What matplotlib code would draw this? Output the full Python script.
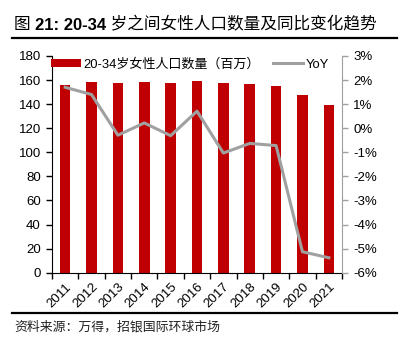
import matplotlib
matplotlib.use('Agg')
import matplotlib.pyplot as plt
from matplotlib.ticker import FuncFormatter, FixedLocator

plt.rcParams['font.family'] = ['Liberation Sans', 'Noto Sans CJK SC']
plt.rcParams['axes.unicode_minus'] = False

years = ['2011', '2012', '2013', '2014', '2015', '2016', '2017', '2018', '2019', '2020', '2021']
female_pop = [155.8, 158.3, 157.8, 158.3, 157.8, 158.9, 157.2, 156.4, 155.0, 147.2, 139.4]
yoy = [1.70, 1.40, -0.29, 0.22, -0.31, 0.71, -1.03, -0.63, -0.72, -5.13, -5.38]

RED = '#C00000'
GRAY = '#A0A0A0'

fig = plt.figure(figsize=(4.04, 3.38), dpi=100)
ax = fig.add_axes([52 / 404, 1 - 272.7 / 338, 290 / 404, 216.7 / 338])
ax2 = ax.twinx()

x = list(range(len(years)))
bars = ax.bar(x, female_pop, width=0.4, color=RED, zorder=2)
line, = ax2.plot(x, yoy, color=GRAY, linewidth=2.2, zorder=3)

ax.set_xlim(-0.5, len(years) - 0.5)
ax.set_ylim(0, 180)
ax.set_yticks(range(0, 181, 20))
ax2.set_ylim(-6, 3)
ax2.set_yticks(range(-6, 4))
ax2.yaxis.set_major_formatter(FuncFormatter(lambda v, p: f'{int(v)}%'))

# boundary ticks, labels at bar centres
ax.xaxis.set_major_locator(FixedLocator([i - 0.5 for i in range(len(years) + 1)]))
ax.xaxis.set_minor_locator(FixedLocator(x))
ax.set_xticklabels([''] * (len(years) + 1))
ax.set_xticklabels(years, minor=True, rotation=45, ha='right', rotation_mode='anchor')
ax.tick_params(axis='x', which='major', length=4, width=1, direction='out')
ax.tick_params(axis='x', which='minor', length=0, pad=6, labelsize=9.5)
ax.tick_params(axis='y', length=4, width=1, labelsize=9.5, pad=4)
ax2.tick_params(axis='y', length=4, width=1, color=GRAY, labelsize=9.5, pad=4)

for a in (ax, ax2):
    a.spines['top'].set_visible(False)
ax.spines['right'].set_visible(False)
ax2.spines['left'].set_visible(False)
ax2.spines['bottom'].set_visible(False)
ax2.spines['right'].set_color(GRAY)

ax.legend([bars, line], ['20-34岁女性人口数量（百万）', 'YoY'], ncol=2, frameon=False,
          loc='upper left', bbox_to_anchor=(-0.045, 1.045), fontsize=9.4,
          handlelength=2.3, handleheight=0.5, handletextpad=0.2, columnspacing=1.0)

# title: regular CJK with bold numbers
t1 = fig.text(14 / 404, 1 - 25 / 338, '图 ', fontsize=12, va='center', ha='left')
t2 = ax.annotate('21: 20-34', xy=(1, 0), xycoords=t1, va='bottom', ha='left',
                 fontsize=12, fontweight='bold', annotation_clip=False)
t3 = ax.annotate(' 岁之间女性人口数量及同比变化趋势', xy=(1, 0), xycoords=t2, va='bottom', ha='left',
                 fontsize=12, annotation_clip=False)

fig.add_artist(plt.Line2D([12 / 404, 397 / 404], [1 - 38 / 338, 1 - 38 / 338], color='black', linewidth=1.6))
fig.add_artist(plt.Line2D([12 / 404, 397 / 404], [1 - 313 / 338, 1 - 313 / 338], color='black', linewidth=1.6))
fig.text(14 / 404, 1 - 327 / 338, '资料来源：万得，招银国际环球市场', fontsize=9.3, va='center', ha='left', color='#222222')

fig.savefig('out.png', dpi=100)
